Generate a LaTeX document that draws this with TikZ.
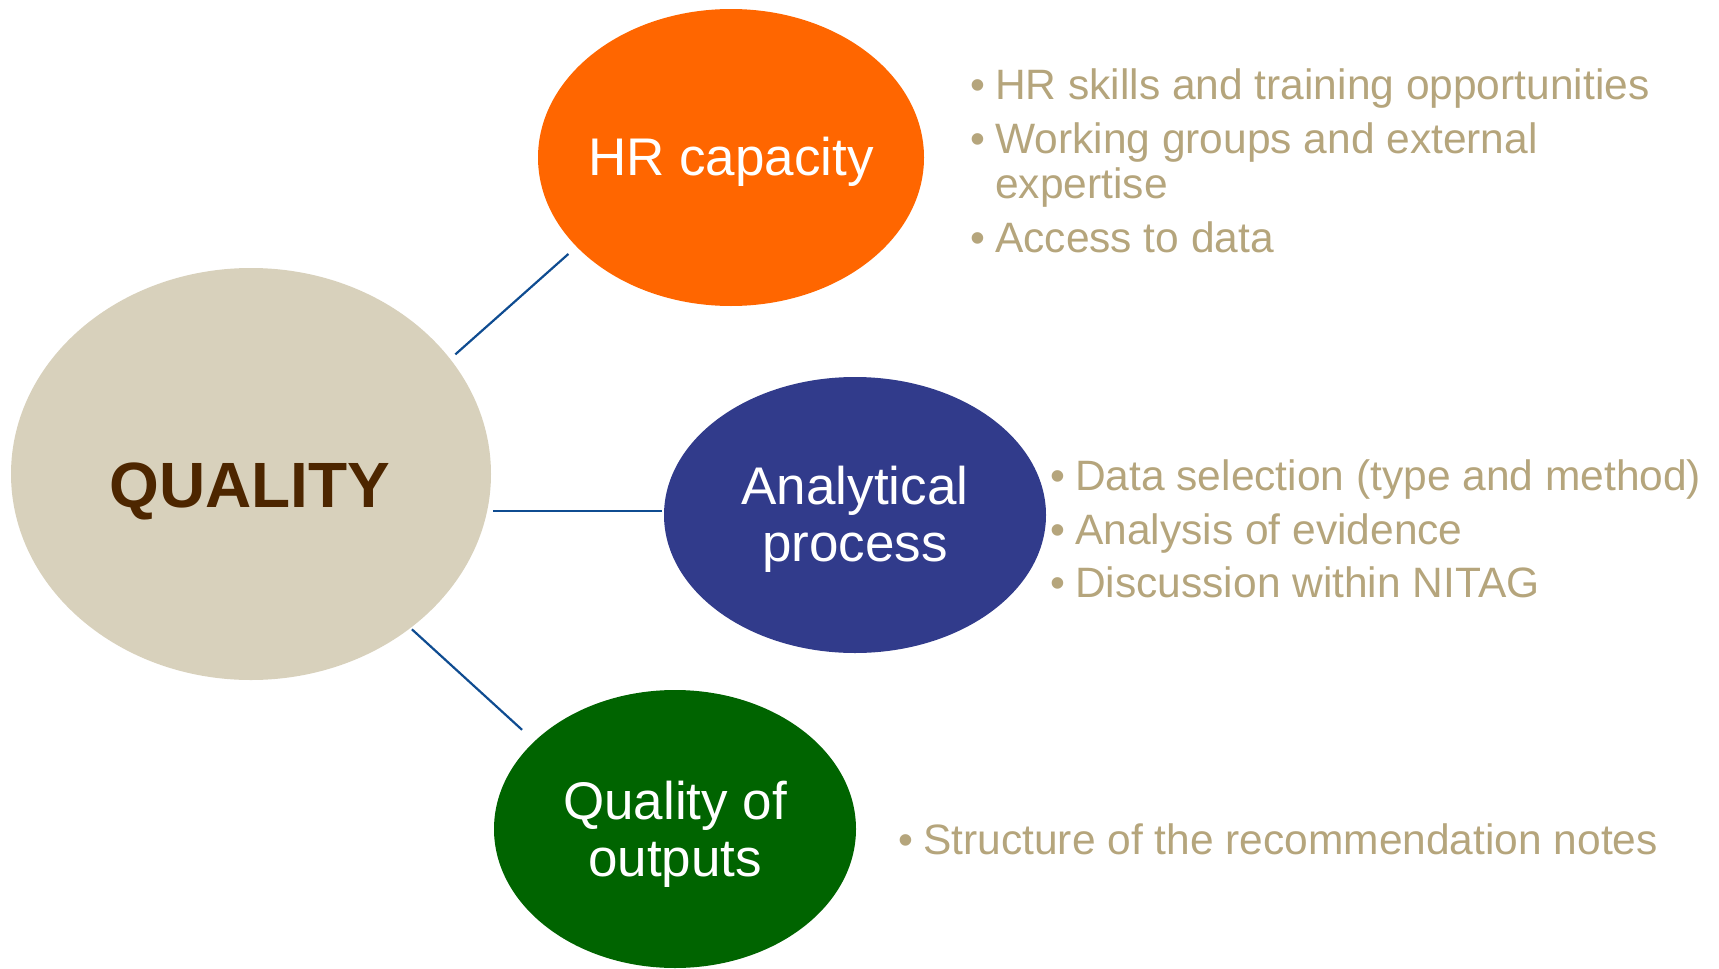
\documentclass[tikz,border=0pt]{standalone}
\usepackage{fontspec}
\setmainfont{Liberation Sans}
\usetikzlibrary{shapes.geometric}
\definecolor{qfill}{HTML}{D8D1BC}
\definecolor{qtext}{HTML}{4D2600}
\definecolor{hrfill}{HTML}{FF6600}
\definecolor{anfill}{HTML}{313B8B}
\definecolor{qofill}{HTML}{006400}
\definecolor{tan}{HTML}{B5A57C}
\definecolor{linkc}{HTML}{0F4C91}
\begin{document}
\begin{tikzpicture}[x=1pt,y=-1pt,
  blob/.style={ellipse,draw=none,inner sep=0pt,outer sep=0pt},
  lbl/.style={text=white,font=\fontsize{53}{57}\selectfont,align=center,inner sep=0pt},
  bul/.style={text=tan,font=\fontsize{42.5}{45}\selectfont,inner sep=0pt,anchor=base west},
  link/.style={draw=linkc,line width=2.2pt}]
\useasboundingbox (0,0) rectangle (1719,969);
% ellipses
\node[blob,fill=qfill,minimum width=480pt,minimum height=412pt] (q) at (251,474) {};
\node[blob,fill=hrfill,minimum width=386pt,minimum height=297pt] (hr) at (731,157.5) {};
\node[blob,fill=anfill,minimum width=382pt,minimum height=276pt] (an) at (855,515) {};
\node[blob,fill=qofill,minimum width=362pt,minimum height=278pt] (qo) at (675,829) {};
% labels
\node[inner sep=0pt,text=qtext,font=\fontsize{64}{70}\selectfont\bfseries] (ql) at (250,491) {QUALITY};
\node[lbl] (hrl) at (731,162) {HR capacity};
\node[lbl] (anl) at (855,519) {Analytical\\process};
\node[lbl] (qol) at (675,834) {Quality of\\outputs};
% connectors
\draw[link,shorten <=7pt,shorten >=11pt] (q.30) -- (hr.210);
\draw[link,shorten <=6pt,shorten >=2pt] (q.-9) -- (q.-9 -| an.west);
\draw[link,shorten <=2pt,shorten >=17pt] (q.-44) -- (qo.148);
% bullets HR
\node[bul] (b1d) at (970,99) {•};
\node[bul] (b1) at (995,99) {HR skills and training opportunities};
\node[bul] (b2d) at (970,153) {•};
\node[bul] (b2) at (995,153) {Working groups and external};
\node[bul] (b2b) at (995,198) {expertise};
\node[bul] (b3d) at (970,252) {•};
\node[bul] (b3) at (995,252) {Access to data};
% bullets analytical
\node[bul] (c1d) at (1050,490) {•};
\node[bul] (c1) at (1075,490) {Data selection (type and method)};
\node[bul] (c2d) at (1050,544) {•};
\node[bul] (c2) at (1075,544) {Analysis of evidence};
\node[bul] (c3d) at (1050,597) {•};
\node[bul] (c3) at (1075,597) {Discussion within NITAG};
% bullets outputs
\node[bul] (d1d) at (898,854) {•};
\node[bul] (d1) at (923,854) {Structure of the recommendation notes};
\end{tikzpicture}
\end{document}
